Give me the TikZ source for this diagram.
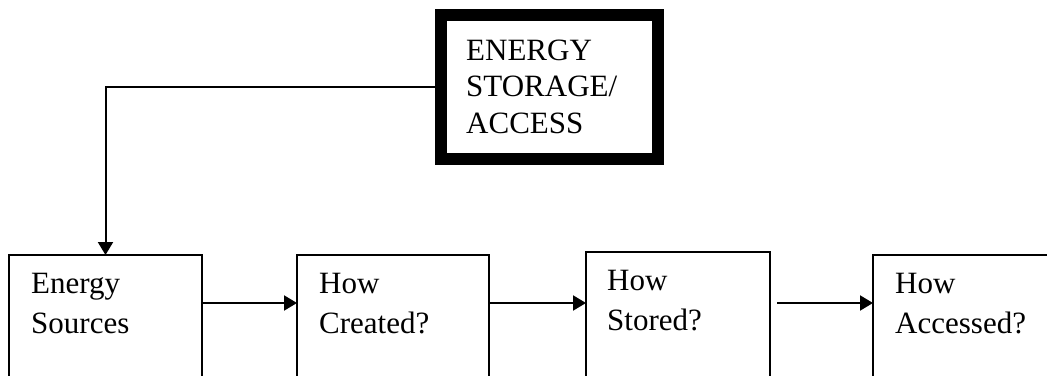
\documentclass[tikz,border=0pt]{standalone}
\usepackage{fontspec}
\setmainfont{Liberation Serif}
\usetikzlibrary{arrows.meta}
\begin{document}
\begin{tikzpicture}[x=1pt,y=-1pt,
  box/.style={draw, line width=2pt, rectangle, inner sep=0pt, outer sep=0pt, anchor=north west},
  lbl/.style={font=\fontsize{31}{40}\selectfont, align=left, inner sep=0pt, anchor=base west},
  conn/.style={line width=2pt, -{Triangle[length=13pt,width=15pt]}}]
\clip (0,0) rectangle (1047,375);
\fill[white] (0,0) rectangle (1047,375);
% top thick box
\node[draw, line width=12pt, rectangle, minimum width=217pt, minimum height=144pt, inner sep=0pt] (store) at (549.5,87) {};
\node[lbl, font=\fontsize{31}{36.5}\selectfont] (storeT) at (466,133) {ENERGY\\STORAGE/\\ACCESS};
% bottom boxes
\node[box, minimum width=193pt, minimum height=200pt] (src) at (9,255) {};
\node[box, minimum width=192pt, minimum height=200pt] (cre) at (297,255) {};
\node[box, minimum width=184pt, minimum height=200pt] (sto) at (586,252) {};
\node[box, minimum width=200pt, minimum height=200pt] (acc) at (873,255) {};
\node[lbl] (srcT) at (31,333) {Energy\\Sources};
\node[lbl] (creT) at (319,333) {How\\Created?};
\node[lbl] (stoT) at (607,330) {How\\Stored?};
\node[lbl] (accT) at (895,333) {How\\Accessed?};
% connectors
\coordinate (row) at (0,303);
\coordinate (a3) at (777,303);
\draw[conn] (store.west) -| (src.north);
\draw[conn] (src.east |- row) -- (cre.west |- row);
\draw[conn] (cre.east |- row) -- (sto.west |- row);
\draw[conn] (a3) -- (acc.west |- row);
\end{tikzpicture}
\end{document}
